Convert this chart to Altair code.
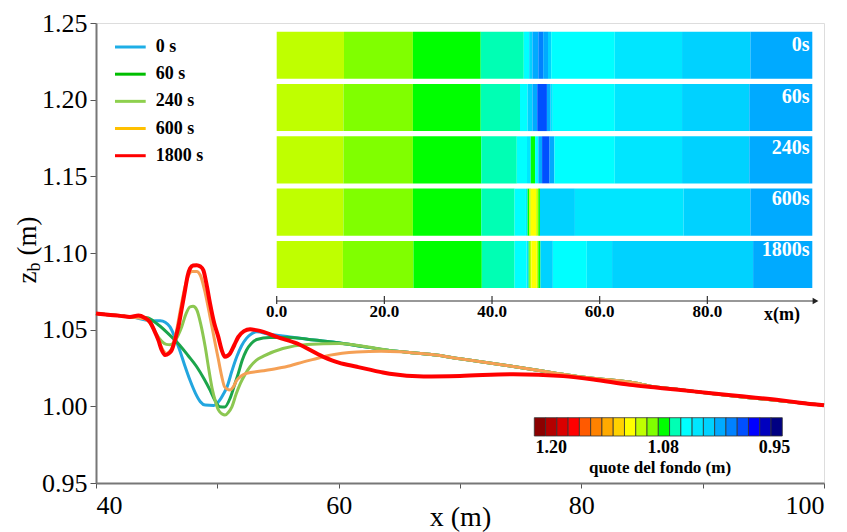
import altair as alt
import pandas as pd

SERIF = "'Liberation Serif', 'Times New Roman', serif"

# ---------------- main curves ----------------
SERIES = ["0 s", "60 s", "240 s", "600 s", "1800 s"]
CURVE_COLORS = ["#22A6DF", "#1BA54B", "#8CC751", "#F5A055", "#FF0000"]
LEGEND_COLORS = ["#1EAEE6", "#00BE00", "#8ED04E", "#FFC000", "#FF0000"]

TAIL_X = [66, 68, 70, 72, 74, 76, 78, 80, 82, 84, 86, 88, 90, 92, 94, 96, 98, 100]
TAIL_Z = [1.0350, 1.0335, 1.0310, 1.0288, 1.0265, 1.0240, 1.0215, 1.0192, 1.0175,
          1.0158, 1.0128, 1.0110, 1.0090, 1.0072, 1.0055, 1.0040, 1.0023, 1.0007]

X_0 = [40, 41, 42, 43, 44.0, 44.6, 45.3, 45.7, 46.1, 46.5, 46.9, 47.3, 47.75, 48.2, 48.6,
       49.0, 49.7, 50.2, 50.5, 50.8, 51.2, 51.6, 52.0, 52.4, 52.8, 53.25, 54.3, 56.0, 58, 60,
       62, 64.2] + TAIL_X
Z_0 = [1.0605, 1.0597, 1.0590, 1.0582, 1.0565, 1.0557, 1.0558, 1.0548, 1.0518, 1.0450,
       1.0366, 1.0270, 1.0170, 1.0085, 1.0030, 1.0008, 1.0006, 1.0040, 1.0080, 1.0127,
       1.0230, 1.0323, 1.0395, 1.0443, 1.0472, 1.0486, 1.0470, 1.0453, 1.0432, 1.0415,
       1.0390, 1.0365] + TAIL_Z

X_60 = [40, 41, 42, 43, 44.2, 45.0, 45.8, 46.4, 46.9, 47.6, 48.3, 48.9, 49.4, 49.8, 50.2,
        50.6, 51.05, 51.4, 51.73, 52.05, 52.4, 52.8, 53.25, 54.3, 56, 58, 60, 62, 64.2] + TAIL_X
Z_60 = [1.0605, 1.0597, 1.0590, 1.0582, 1.0578, 1.0540, 1.0486, 1.0440, 1.0399, 1.0330,
        1.0258, 1.0180, 1.0106, 1.0040, 0.9997, 0.9995, 1.0052, 1.0135, 1.0215, 1.0300,
        1.0366, 1.0410, 1.0436, 1.0449, 1.0449, 1.0432, 1.0415, 1.0390, 1.0365] + TAIL_Z

X_240 = [40, 41, 42, 43, 44.2, 44.6, 44.95, 45.4, 45.8, 46.1, 46.4, 46.75, 47.06, 47.4,
         47.75, 48.0, 48.3, 48.65, 49.0, 49.3, 49.6, 49.85, 50.1, 50.4, 50.63, 50.9, 51.2,
         51.55, 51.9, 52.3, 52.7, 53.2, 53.8, 55.4, 57.4, 60.1, 62, 64.2] + TAIL_X
Z_240 = [1.0605, 1.0597, 1.0590, 1.0582, 1.0575, 1.0530, 1.0475, 1.0425, 1.0404, 1.0402,
         1.0414, 1.0460, 1.0518, 1.0600, 1.0649, 1.0652, 1.0630, 1.0530, 1.0388, 1.0240,
         1.0106, 1.0030, 0.9975, 0.9950, 0.9943, 0.9960, 0.9997, 1.0080, 1.0150, 1.0210,
         1.0258, 1.0300, 1.0327, 1.0377, 1.0404, 1.0410, 1.0392, 1.0365] + TAIL_Z

X_600 = [40, 41, 42, 43, 44.0, 44.5, 45.0, 45.5, 45.8, 46.2, 46.6, 47.0, 47.4, 47.9, 48.3,
         48.6, 49.0, 49.4, 49.75, 50.1, 50.35, 50.6, 51.05, 51.3, 51.6, 52.0, 52.4, 53.8,
         54.9, 56, 57.1, 58.2, 59.3, 61.5, 63.5, 65] + TAIL_X
Z_600 = [1.0605, 1.0597, 1.0590, 1.0582, 1.0570, 1.0540, 1.0460, 1.0370, 1.0345, 1.0370,
         1.0480, 1.0650, 1.0800, 1.0880, 1.0880, 1.0855, 1.0740, 1.0583, 1.0440, 1.0300,
         1.0200, 1.0127, 1.0106, 1.0125, 1.0170, 1.0200, 1.0215, 1.0232, 1.0247, 1.0265,
         1.0290, 1.0312, 1.0334, 1.0355, 1.0360, 1.0356] + TAIL_Z

X_1800 = [40, 41, 42, 42.8, 43.5, 44.0, 44.45, 44.8, 45.14, 45.4, 45.69, 46.0, 46.24, 46.5,
          46.79, 47.05, 47.34, 47.55, 47.75, 48.0, 48.3, 48.6, 48.85, 49.1, 49.4, 49.75,
          50.08, 50.35, 50.63, 50.85, 51.05, 51.4, 51.73, 52.2, 52.7, 53.2, 53.8, 54.9,
          56.55, 58.74, 60.0, 61.5, 63.4, 64.2, 67, 70, 74.4, 78.5, 81, 84, 86, 88, 90.9,
          93, 96.4, 98, 100]
Z_1800 = [1.0605, 1.0597, 1.0590, 1.0583, 1.0592, 1.0578, 1.0550, 1.0495, 1.0432, 1.0370,
          1.0334, 1.0345, 1.0366, 1.0430, 1.0518, 1.0630, 1.0758, 1.0850, 1.0899, 1.0918,
          1.0920, 1.0912, 1.0888, 1.0800, 1.0670, 1.0540, 1.0453, 1.0370, 1.0323, 1.0330,
          1.0345, 1.0400, 1.0453, 1.0490, 1.0503, 1.0497, 1.0486, 1.0453, 1.0410, 1.0323,
          1.0285, 1.0258, 1.0225, 1.0212, 1.0195, 1.0198, 1.0210, 1.0197, 1.0175, 1.0140,
          1.0124, 1.0108, 1.0084, 1.0068, 1.0040, 1.0024, 1.0007]

CURVES = [(X_0, Z_0), (X_60, Z_60), (X_240, Z_240), (X_600, Z_600), (X_1800, Z_1800)]

# ---------------- inset (bed level maps) ----------------
STRIPS = ["0s", "60s", "240s", "600s", "1800s"]
EDGES = [
    [0, 12.5, 25.3, 37.9, 45.9, 46.9, 47.5, 48.6, 49.5, 50.4, 51.0, 62.8, 75.3, 88.0, 99.5],
    [0, 12.4, 25.3, 37.9, 45.2, 46.6, 47.5, 48.4, 50.2, 50.9, 51.3, 62.8, 75.3, 87.8, 99.5],
    [0, 12.4, 25.3, 38.0, 44.6, 46.5, 47.2, 48.0, 48.6, 49.3, 50.7, 51.6, 62.8, 75.3, 87.8, 99.5],
    [0, 12.4, 25.3, 38.0, 44.2, 46.3, 46.6, 46.9, 47.2, 48.2, 48.6, 48.9, 55.4, 75.6, 88.0, 99.5],
    [0, 12.3, 25.4, 38.1, 44.2, 46.4, 46.8, 47.0, 47.3, 48.3, 48.6, 49.0, 51.3, 57.6, 62.3, 88.5, 99.5],
]
LEVELS = [
    [9, 10, 11, 12, 13, 15, 16, 17, 16, 15, 13, 14, 15, 16],
    [9, 10, 11, 12, 13, 15, 16, 18, 16, 14, 13, 14, 15, 16],
    [9, 10, 11, 12, 13, 14, 11, 13, 16, 18, 16, 13, 14, 15, 16],
    [9, 10, 11, 12, 13, 14, 11, 9, 8, 9, 11, 15, 14, 15, 16],
    [9, 10, 11, 12, 13, 14, 11, 9, 8, 9, 11, 15, 13, 14, 15, 16],
]
INSET_TICKS = [0, 20, 40, 60, 80]

# ---------------- colour bar ----------------
PALETTE = ["#8B0000", "#B40000", "#DA0000", "#FF0000", "#FF5A00", "#FF8200", "#FFAA00",
           "#FFD200", "#FFFF00", "#BFFF00", "#80FF00", "#00FF00", "#00FFB4", "#00FFFF",
           "#00E6FF", "#00D2FF", "#00AAFF", "#0082FF", "#0050FF", "#0000FF", "#0000BE",
           "#000082"]
CBAR_LABELS = ["1.20", "1.08", "0.95"]
CBAR_LABEL_CELL = [1.5, 11.45, 21.3]

# ---------------- build data ----------------
line_rows = []
for s, (xs_, zs_) in zip(SERIES, CURVES):
    for xv, zv in zip(xs_, zs_):
        line_rows.append({"series": s, "x": xv, "z": zv})
lines_df = pd.DataFrame(line_rows)

heat_rows = []
for st, ed, lv in zip(STRIPS, EDGES, LEVELS):
    for k, level in enumerate(lv):
        heat_rows.append({"strip": st, "x0": ed[k], "x1": ed[k + 1], "level": level})
heat_df = pd.DataFrame(heat_rows)

W, H = 728, 460
x_scale = alt.Scale(domain=[40, 100], nice=False, zero=False)
y_scale = alt.Scale(domain=[0.95, 1.25], nice=False, zero=False)
curve_color = alt.Scale(domain=SERIES, range=CURVE_COLORS)

x_axis = alt.Axis(values=[40, 50, 60, 70, 80, 90, 100], format="d",
                  labelExpr="datum.value % 20 == 0 ? datum.label : ''",
                  labelFont=SERIF, labelFontSize=26, labelColor="black", labelPadding=4,
                  tickSize=5, tickColor="#555", domainColor="#777", domainWidth=2,
                  grid=False, title="x (m)", titleFont=SERIF, titleFontSize=28,
                  titleFontWeight="normal", titleColor="black", titleBaseline="alphabetic",
                  titleY=42)
y_axis = alt.Axis(values=[0.95, 1.00, 1.05, 1.10, 1.15, 1.20, 1.25], format=".2f",
                  labelFont=SERIF, labelFontSize=26, labelColor="black", labelPadding=3,
                  tickSize=6, tickColor="#555", domainColor="#777", domainWidth=2,
                  grid=False, title=None)

curve_layers = []
for s in SERIES:
    curve_layers.append(
        alt.Chart(lines_df).transform_filter(alt.datum.series == s)
        .mark_line(strokeWidth=4 if s == "1800 s" else 3, interpolate="monotone")
        .encode(x=alt.X("x:Q", scale=x_scale, axis=x_axis),
                y=alt.Y("z:Q", scale=y_scale, axis=y_axis),
                color=alt.Color("series:N", scale=curve_color, legend=None))
    )
main = alt.layer(*curve_layers)

# inset
inset_x = alt.Scale(domain=[0, 100], range=[180.7, 719], nice=False, zero=False)
strip_y = alt.Scale(domain=STRIPS, range=[8.7, 265], paddingInner=0.1, paddingOuter=0)
palette_scale = alt.Scale(domain=list(range(22)), range=PALETTE)

heat = alt.Chart(heat_df).mark_rect().encode(
    x=alt.X("x0:Q", scale=inset_x, axis=None),
    x2="x1:Q",
    y=alt.Y("strip:N", scale=strip_y, axis=None, sort=STRIPS),
    color=alt.Color("level:O", scale=palette_scale, legend=None),
)
strip_labels = alt.Chart(pd.DataFrame({"strip": STRIPS})).mark_text(
    align="right", baseline="middle", dy=-12, font=SERIF, fontSize=20,
    fontWeight="bold", color="white").encode(
    x=alt.value(713.5),
    y=alt.Y("strip:N", scale=strip_y, axis=None, sort=STRIPS),
    text="strip:N",
)
ticks_df = pd.DataFrame({"v": INSET_TICKS})
inset_line = alt.Chart(pd.DataFrame({"a": [0], "b": [100.3]})).mark_rule(
    color="#333", strokeWidth=1.2).encode(
    x=alt.X("a:Q", scale=inset_x, axis=None), x2="b:Q", y=alt.value(278))
inset_ticks = alt.Chart(ticks_df).mark_rule(color="#333", strokeWidth=1.2).encode(
    x=alt.X("v:Q", scale=inset_x, axis=None), y=alt.value(273), y2=alt.value(281))
inset_tick_labels = alt.Chart(ticks_df).mark_text(
    font=SERIF, fontSize=17, fontWeight="bold", baseline="middle", color="black").encode(
    x=alt.X("v:Q", scale=inset_x, axis=None), y=alt.value(288.5),
    text=alt.Text("v:Q", format=".1f"))
arrow = alt.Chart(pd.DataFrame({"a": [100.1]})).mark_point(
    shape="triangle-right", filled=True, size=45, color="#222", opacity=1).encode(
    x=alt.X("a:Q", scale=inset_x, axis=None), y=alt.value(278))
xm_label = alt.Chart(pd.DataFrame({"t": ["x(m)"]})).mark_text(
    font=SERIF, fontSize=18, fontWeight="bold", baseline="middle", color="black").encode(
    x=alt.value(686), y=alt.value(292), text="t:N")

# colour bar
cb_scale = alt.Scale(domain=[0, 22], range=[438.3, 686.3], nice=False, zero=False)
cbar = alt.Chart(pd.DataFrame({"i": list(range(22))})).transform_calculate(
    i1="datum.i + 1").mark_rect(stroke="#333", strokeWidth=0.8).encode(
    x=alt.X("i:Q", scale=cb_scale, axis=None), x2="i1:Q",
    y=alt.value(394.7), y2=alt.value(413),
    color=alt.Color("i:O", scale=palette_scale, legend=None))
cbar_labels = alt.Chart(pd.DataFrame({"t": CBAR_LABELS, "c": CBAR_LABEL_CELL})).mark_text(
    font=SERIF, fontSize=18, fontWeight="bold", baseline="middle", color="black").encode(
    x=alt.X("c:Q", scale=cb_scale, axis=None), y=alt.value(425), text="t:N")
cbar_title = alt.Chart(pd.DataFrame({"t": ["quote del fondo (m)"]})).mark_text(
    font=SERIF, fontSize=17, fontWeight="bold", baseline="middle", color="black").encode(
    x=alt.value(564), y=alt.value(445), text="t:N")

# legend
leg_y = alt.Scale(type="point", domain=SERIES, range=[24, 132.7], padding=0)
leg_df = pd.DataFrame({"series": SERIES})
leg_lines = alt.Chart(leg_df).mark_rule(strokeWidth=3).encode(
    x=alt.value(19), x2=alt.value(49.7),
    y=alt.Y("series:N", scale=leg_y, axis=None, sort=SERIES),
    color=alt.Color("series:N", scale=alt.Scale(domain=SERIES, range=LEGEND_COLORS), legend=None))
leg_text = alt.Chart(leg_df).mark_text(
    align="left", baseline="middle", font=SERIF, fontSize=18, fontWeight="bold",
    color="black").encode(
    x=alt.value(59.7), y=alt.Y("series:N", scale=leg_y, axis=None, sort=SERIES),
    text="series:N")

# y-axis title z_b (m)
yt_z = alt.Chart(pd.DataFrame({"t": ["z"]})).mark_text(
    font=SERIF, fontSize=27, angle=270, baseline="alphabetic", color="black").encode(
    x=alt.value(36 - 96), y=alt.value(277.5 - 23), text="t:N")
yt_b = alt.Chart(pd.DataFrame({"t": ["b"]})).mark_text(
    font=SERIF, fontSize=18, angle=270, baseline="alphabetic", color="black").encode(
    x=alt.value(40 - 96), y=alt.value(267 - 23), text="t:N")
yt_m = alt.Chart(pd.DataFrame({"t": ["(m)"]})).mark_text(
    font=SERIF, fontSize=27, angle=270, baseline="alphabetic", color="black").encode(
    x=alt.value(36 - 96), y=alt.value(236 - 23), text="t:N")

chart = alt.layer(
    main, heat, strip_labels, inset_line, inset_ticks, inset_tick_labels, arrow, xm_label,
    cbar, cbar_labels, cbar_title, leg_lines, leg_text, yt_z, yt_b, yt_m,
).resolve_scale(
    x="independent", y="independent", color="independent"
).properties(
    width=W, height=H, autosize="none",
    padding={"left": 96, "top": 23, "right": 23, "bottom": 49},
).configure_view(
    stroke="#707070", strokeWidth=2
).configure(background="white")

chart.save("out.html", embed_options={"renderer": "svg", "actions": False})
